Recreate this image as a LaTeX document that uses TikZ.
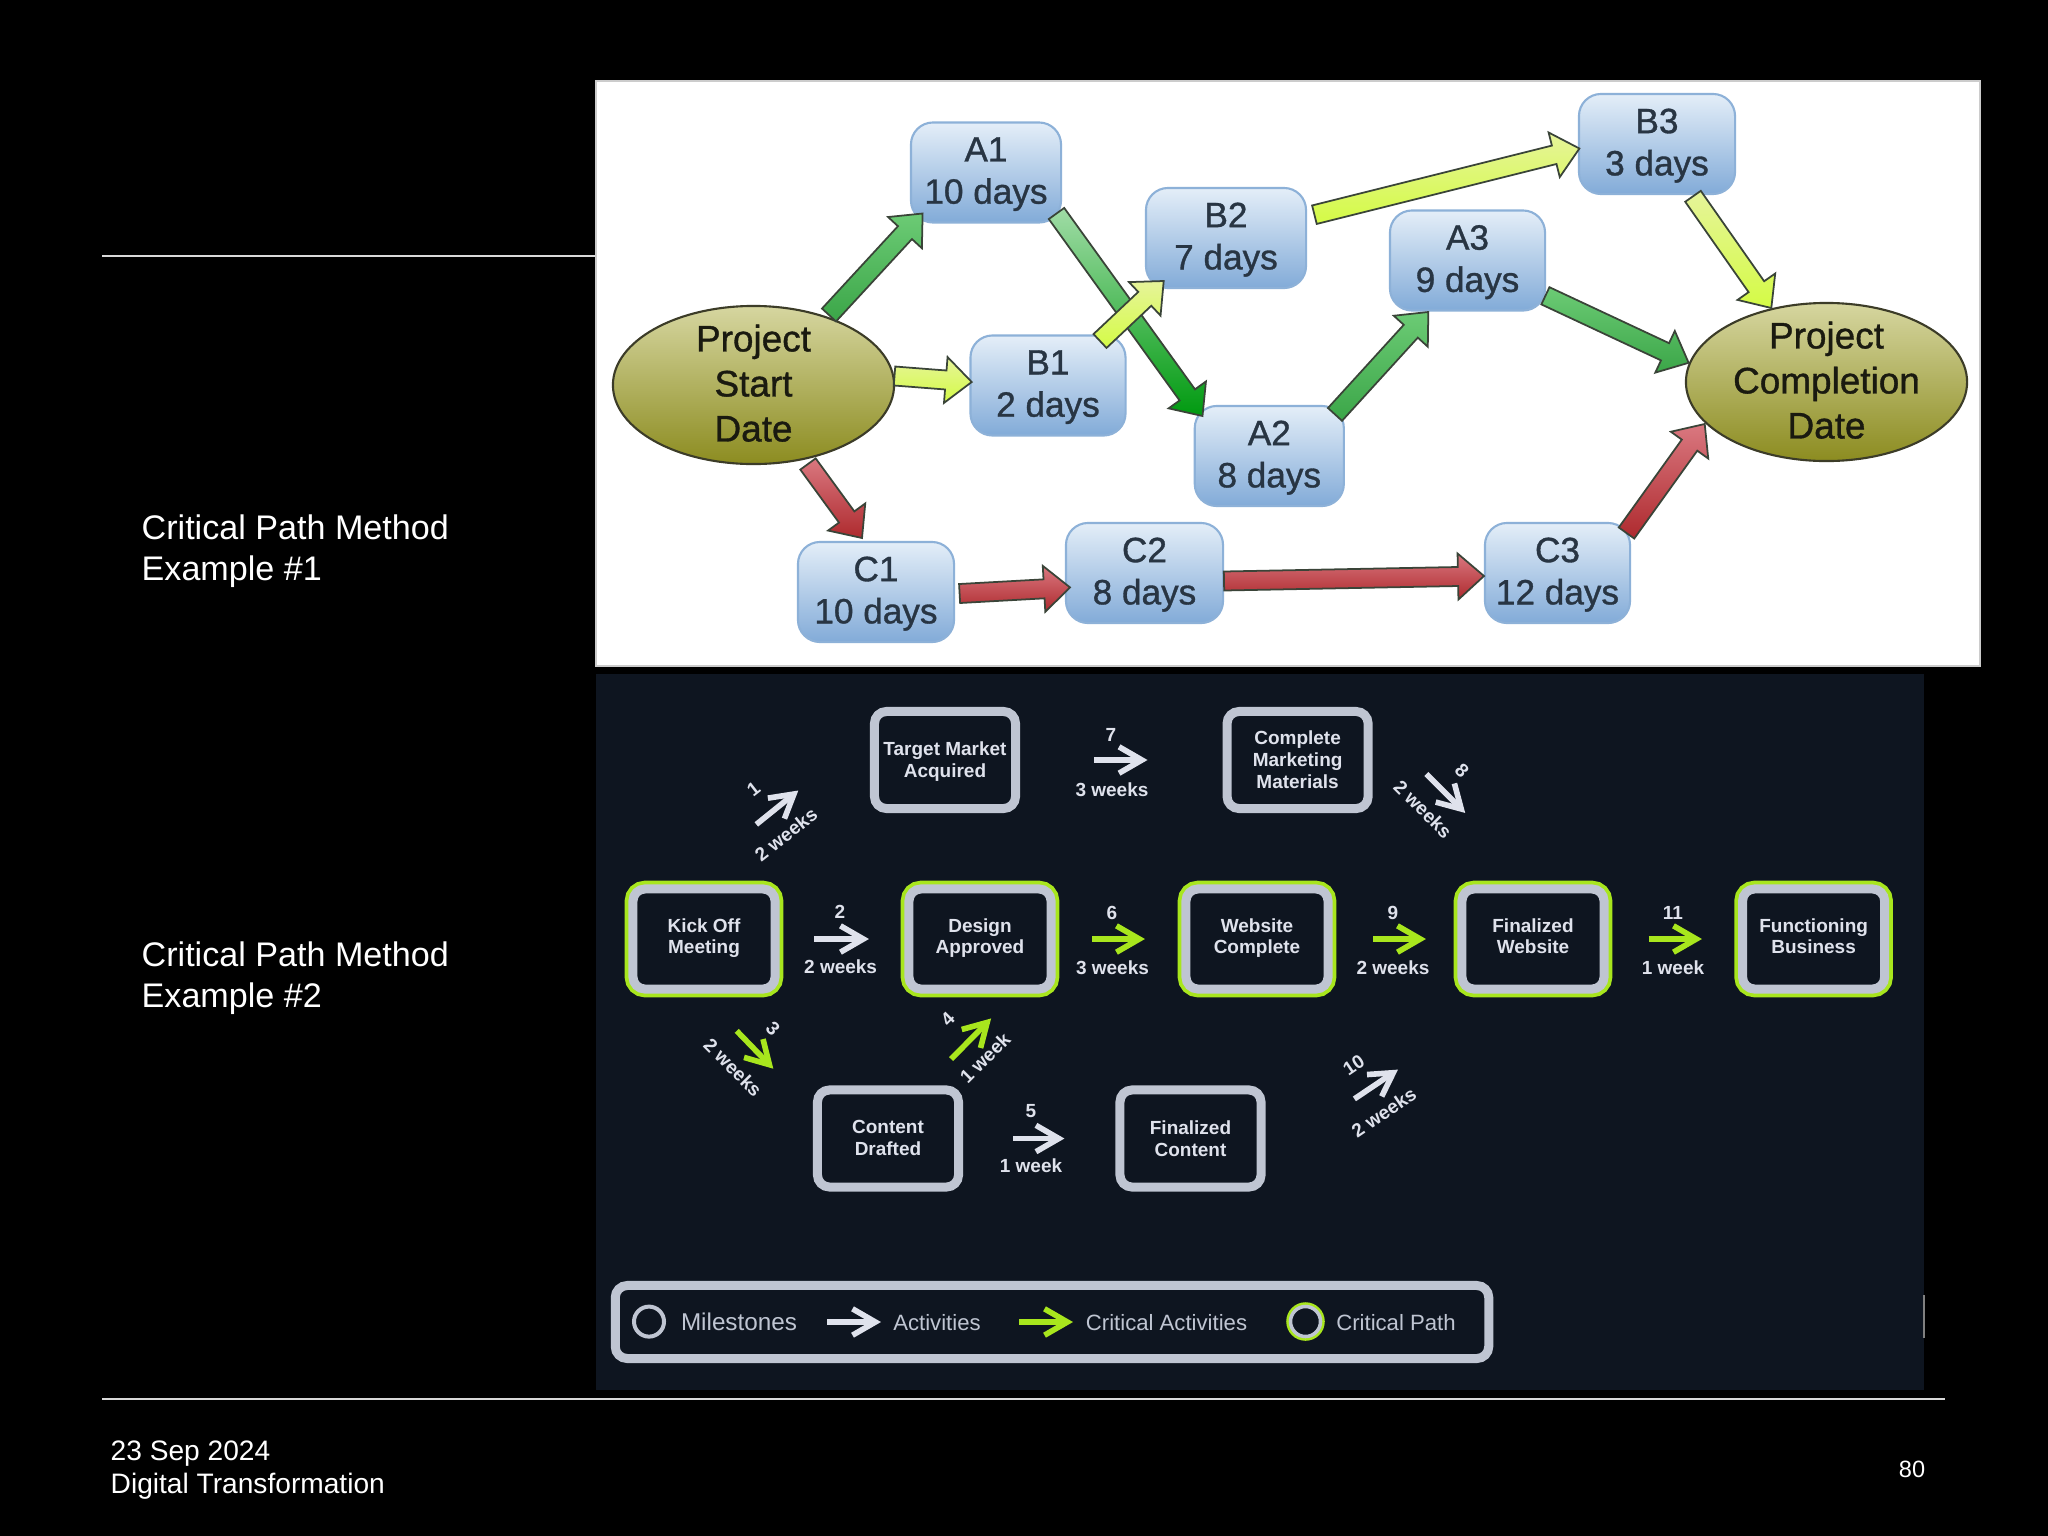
\documentclass[tikz,border=0pt]{standalone}
\usepackage{fontspec}
\setmainfont{Liberation Sans}
\newfontfamily\heavyfont[FakeBold=1]{Liberation Sans}
\usetikzlibrary{arrows.meta,calc,shapes.geometric}
\definecolor{panel}{HTML}{0E1520}
\definecolor{ring}{HTML}{BFC5D2}
\definecolor{lime}{HTML}{A8E61D}
\definecolor{pale}{HTML}{DFE2EC}
\tikzset{
	task/.style={draw=taskline,line width=0.6pt,shape=rectangle,rounded corners=0.22cm,top color=taskhi,bottom color=tasklo,text=tasktext,align=center,inner sep=0pt,minimum height=1.0cm,font=\heavyfont\fontsize{10}{12}\selectfont,text depth=1.14pt},
	stone/.style={shape=ellipse,draw=stoneline,line width=0.6pt,top color=stonehi,middle color=stonemid,bottom color=stonelo,inner sep=0pt,minimum width=2.81cm,minimum height=1.58cm},
	stonetext/.style={align=center,inner sep=0pt,yshift=0.5pt,text=stonetextc,font=\heavyfont\fontsize{10.5}{12.8}\selectfont},
	blockarrow/.style={draw=arrowline,line width=0.5pt,to path={
		($(\tikztostart)!0.095cm!90:(\tikztotarget)$) --
		($(\tikztotarget)!0.26cm!(\tikztostart)!0.095cm!90:(\tikztotarget)$) --
		($(\tikztotarget)!0.26cm!(\tikztostart)!0.23cm!90:(\tikztotarget)$) --
		(\tikztotarget) --
		($(\tikztotarget)!0.26cm!(\tikztostart)!0.23cm!-90:(\tikztotarget)$) --
		($(\tikztotarget)!0.26cm!(\tikztostart)!0.095cm!-90:(\tikztotarget)$) --
		($(\tikztostart)!0.095cm!-90:(\tikztotarget)$) -- cycle}},
	greenarrow/.style={blockarrow,top color=greenhi,bottom color=greenlo},
	deeparrow/.style={blockarrow,top color=deephi,bottom color=deeplo},
	yellowarrow/.style={blockarrow,top color=yellowhi,bottom color=yellowlo},
	redarrow/.style={blockarrow,top color=redhi,bottom color=redlo},
	milestone/.style={shape=rectangle,draw=ring,fill=panel,line width=0.09cm,rounded corners=0.12cm,text=pale,align=center,inner sep=0pt,outer sep=0.045cm,minimum width=1.41cm,minimum height=0.97cm,font=\bfseries\fontsize{5.4}{6.2}\selectfont,text depth=0.14pt},
	critical/.style={milestone,outer sep=0.08cm,minimum width=1.42cm,minimum height=1.0cm,preaction={draw=lime,line width=0.165cm},text depth=1.7pt},
	act/.style={draw=pale,line width=1.6pt,-{Straight Barb[length=6.5pt,width=7.5pt]}},
	critact/.style={act,draw=lime},
	lab/.style={text=pale,inner sep=0pt,yshift=-0.2pt,font=\bfseries\fontsize{5.4}{6.2}\selectfont},
	legendtext/.style={text=ring,inner sep=0pt,font=\fontsize{6.3}{7.5}\selectfont},
	slidetext/.style={text=white,align=left,anchor=west,inner sep=0pt,font=\fontsize{9.7}{11.6}\selectfont},
	foottext/.style={text=white,align=left,anchor=west,inner sep=0pt,font=\fontsize{8}{9.6}\selectfont},
}
\definecolor{taskline}{HTML}{8DB1D8}
\definecolor{taskhi}{HTML}{E4EEF8}
\definecolor{tasklo}{HTML}{82ABD8}
\definecolor{tasktext}{HTML}{283543}
\definecolor{stoneline}{HTML}{3C3C28}
\definecolor{stonehi}{HTML}{D6D6A0}
\definecolor{stonemid}{HTML}{A5A545}
\definecolor{stonelo}{HTML}{8C8C20}
\definecolor{stonetextc}{HTML}{1A1A10}
\definecolor{arrowline}{HTML}{3A4438}
\definecolor{greenhi}{HTML}{6CCB75}
\definecolor{greenlo}{HTML}{3BA648}
\definecolor{deephi}{HTML}{A0DCA6}
\definecolor{deeplo}{HTML}{009A10}
\definecolor{yellowhi}{HTML}{E6F49A}
\definecolor{yellowlo}{HTML}{D4FB45}
\definecolor{redhi}{HTML}{DA7880}
\definecolor{redlo}{HTML}{AE2A2E}
\begin{document}
\begin{tikzpicture}[x=0.01cm,y=-0.01cm]
	\useasboundingbox (0,0) rectangle (2048,1536);
	\fill[black] (0,0) rectangle (2048,1536);
	\draw[white!85!black,line width=0.5pt] (102,256) -- (596,256);
	\draw[white!85!black,line width=0.5pt] (102,1399) -- (1945,1399);
	\fill[white] (596,81) rectangle (1980,666);
	\draw[white!80!black,line width=0.8pt] (596,81) rectangle (1980,666);
	\fill[panel] (596,674) rectangle (1924,1390);
	\draw[gray,line width=0.4pt] (1924,1295) -- (1924,1338);

	% slide texts
	\path (141,551.5) node[slidetext] (title1) {Critical Path Method\\Example \#1};
	\path (141,978.5) node[slidetext] (title2) {Critical Path Method\\Example \#2};
	\path (110,1470) node[foottext] (foot) {23 Sep 2024\\Digital Transformation};
	\path (1912,1469) node[text=white,inner sep=0pt,font=\fontsize{6.7}{8}\selectfont] (pageno) {80};

	% example 1
	\path (753.5,385) node[stone] (start) {};
	\path (1826.5,382) node[stone] (finish) {};
	\path (986,172.5) node[task,minimum width=1.5cm] (a1) {A1\\10 days};
	\path (1269.3,456) node[task,minimum width=1.49cm] (a2) {A2\\8 days};
	\path (1467.5,260.5) node[task,minimum width=1.55cm] (a3) {A3\\9 days};
	\path (1048,385.5) node[task,minimum width=1.55cm] (b1) {B1\\2 days};
	\path (1226,238) node[task,minimum width=1.6cm] (b2) {B2\\7 days};
	\path (1657,144) node[task,minimum width=1.56cm] (b3) {B3\\3 days};
	\path (876,592) node[task,minimum width=1.56cm] (c1) {C1\\10 days};
	\path (1144.5,573) node[task,minimum width=1.57cm] (c2) {C2\\8 days};
	\path (1557.5,573) node[task,minimum width=1.45cm] (c3) {C3\\12 days};
	\path (start.center) node[stonetext] (starttext) {Project\\Start\\Date};
	\path (finish.center) node[stonetext] (finishtext) {Project\\Completion\\Date};

	\path[greenarrow] ([shift={(75.5,-70)}]start.center) to ([shift={(-63.4,41)}]a1.center);
	\path[deeparrow] ([shift={(70.5,41)}]a1.center) to ([shift={(-66.8,-40)}]a2.center);
	\path[greenarrow] ([shift={(65.7,-41.6)}]a2.center) to ([shift={(-39.2,51.5)}]a3.center);
	\path[greenarrow] ([shift={(77.9,35.3)}]a3.center) to ([shift={(-137.9,-19.2)}]finish.center);
	\path[yellowarrow] ([shift={(141,-9)}]start.center) to ([shift={(-76.3,-3.5)}]b1.center);
	\path[yellowarrow] ([shift={(52,-44.5)}]b1.center) to ([shift={(-62.3,43)}]b2.center);
	\path[yellowarrow] ([shift={(88.4,-23.3)}]b2.center) to ([shift={(-77.6,4.5)}]b3.center);
	\path[yellowarrow] ([shift={(36,52.3)}]b3.center) to ([shift={(-55.2,-74)}]finish.center);
	\path[redarrow] ([shift={(54.5,79)}]start.center) to ([shift={(-14,-54)}]c1.center);
	\path[redarrow] ([shift={(83.6,1.5)}]c1.center) to ([shift={(-74.5,14.4)}]c2.center);
	\path[redarrow] ([shift={(79.5,8)}]c2.center) to ([shift={(-73.5,3)}]c3.center);
	\path[redarrow] ([shift={(69,-40)}]c3.center) to ([shift={(-121.8,42)}]finish.center);

	% example 2
	\path (945,760) node[milestone] (target) {Target Market\\Acquired};
	\path (1297.6,760) node[milestone] (marketing) {Complete\\Marketing\\Materials};
	\path (704,939) node[critical] (kickoff) {Kick Off\\Meeting};
	\path (980,939) node[critical] (design) {Design\\Approved};
	\path (1257,939) node[critical] (website) {Website\\Complete};
	\path (1533,939) node[critical] (finalweb) {Finalized\\Website};
	\path (1813.6,939) node[critical] (business) {Functioning\\Business};
	\path (888,1138.5) node[milestone] (drafted) {Content\\Drafted};
	\path (1190.5,1138.5) node[milestone] (finalcontent) {Finalized\\Content};

	\draw[act,shorten <=0.9cm,shorten >=0.92cm] (kickoff.107) -- (target.160.6);
	\draw[act,shorten <=0.31cm,shorten >=0.32cm] (kickoff.east) -- (design.west);
	\draw[critact,shorten <=0.47cm,shorten >=0.57cm] (kickoff.south) -- (drafted.159);
	\draw[critact,shorten <=0.37cm,shorten >=0.3cm] (drafted.55.3) -- (design.-61.9);
	\draw[act,shorten <=0.5cm,shorten >=0.51cm] (drafted.east) -- (finalcontent.west);
	\draw[critact,shorten <=0.33cm,shorten >=0.33cm] (design.east) -- (website.west);
	\draw[act,shorten <=0.74cm,shorten >=0.75cm] (target.east) -- (marketing.west);
	\draw[act,shorten <=0.76cm,shorten >=0.96cm] (marketing.28) -- (finalweb.north);
	\draw[critact,shorten <=0.37cm,shorten >=0.28cm] (website.east) -- (finalweb.west);
	\draw[act,shorten <=1.07cm,shorten >=1.3cm] (finalcontent.-15.9) -- (finalweb.-115);
	\draw[critact,shorten <=0.365cm,shorten >=0.326cm] (finalweb.east) -- (business.west);

	\path (753.4,788.8) node[lab,rotate=38] (n1) {1};
	\path (786,833.6) node[lab,rotate=38] (w1) {2 weeks};
	\path (840,911) node[lab] (n2) {2};
	\path (840.6,966) node[lab] (w2) {2 weeks};
	\path (773,1028) node[lab,rotate=-45] (n3) {3};
	\path (733,1066.7) node[lab,rotate=-45] (w3) {2 weeks};
	\path (947.7,1018) node[lab,rotate=45] (n4) {4};
	\path (985,1057.4) node[lab,rotate=45] (w4) {1 week};
	\path (1031,1110) node[lab] (n5) {5};
	\path (1031,1165) node[lab] (w5) {1 week};
	\path (1112,912) node[lab] (n6) {6};
	\path (1112.5,967) node[lab] (w6) {3 weeks};
	\path (1111,734.4) node[lab] (n7) {7};
	\path (1112,789.5) node[lab] (w7) {3 weeks};
	\path (1462,770) node[lab,rotate=-45] (n8) {8};
	\path (1423,808.4) node[lab,rotate=-45] (w8) {2 weeks};
	\path (1393,912) node[lab] (n9) {9};
	\path (1393,967) node[lab] (w9) {2 weeks};
	\path (1353.8,1064) node[lab,rotate=34] (n10) {10};
	\path (1383.8,1111.5) node[lab,rotate=34] (w10) {2 weeks};
	\path (1673,912) node[lab] (n11) {11};
	\path (1673,967) node[lab] (w11) {1 week};

	% legend
	\path (1052,1322) node[milestone,minimum width=8.73cm,minimum height=0.73cm] (legend) {};
	\path (649,1321.6) node[shape=circle,draw=ring,line width=0.04cm,inner sep=0pt,minimum size=0.3cm] (legstone) {};
	\path (739,1322) node[legendtext,font=\fontsize{6.9}{8}\selectfont] (legstonetext) {Milestones};
	\coordinate (legacta) at (827,1322);
	\coordinate (legactb) at (881,1322);
	\draw[act] (legacta) -- (legactb);
	\path (937,1323) node[legendtext] (legacttext) {Activities};
	\coordinate (legcrita) at (1019,1322);
	\coordinate (legcritb) at (1073,1322);
	\draw[critact] (legcrita) -- (legcritb);
	\path (1166.5,1323) node[legendtext] (legcrittext) {Critical Activities};
	\path (1305.5,1321.5) node[shape=circle,fill=panel,draw=ring,line width=0.035cm,inner sep=0pt,minimum size=0.3cm,preaction={draw=lime,line width=0.085cm}] (legpath) {};
	\path (1396,1323) node[legendtext] (legpathtext) {Critical Path};
\end{tikzpicture}
\end{document}
